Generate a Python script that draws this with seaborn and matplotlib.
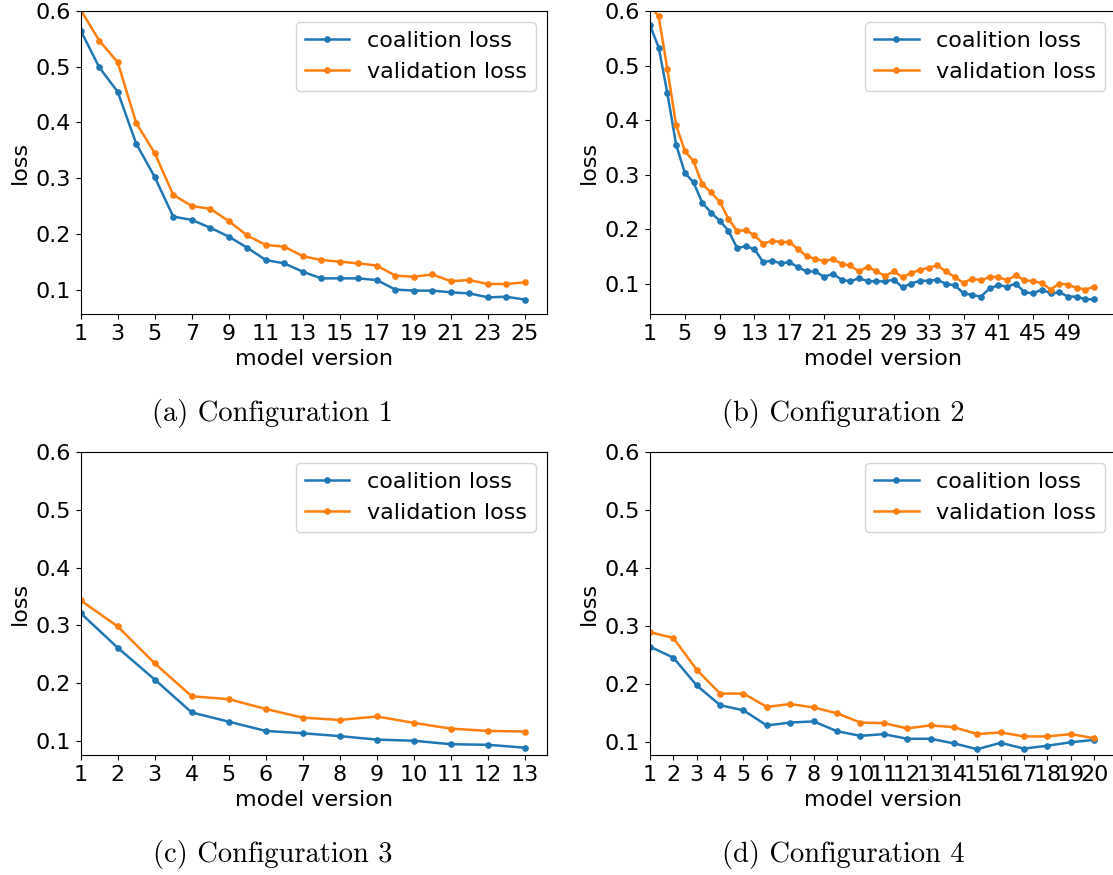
import matplotlib
matplotlib.use("Agg")
import matplotlib.pyplot as plt
import seaborn as sns

# values
versions_1 = list(range(1, 26))
coalition_1 = [0.565, 0.499, 0.455, 0.362, 0.302, 0.231, 0.225, 0.211, 0.195, 0.175,
               0.153, 0.147, 0.132, 0.120, 0.120, 0.120, 0.117, 0.100, 0.098, 0.098,
               0.095, 0.093, 0.086, 0.087, 0.082]
validation_1 = [0.602, 0.547, 0.508, 0.399, 0.345, 0.270, 0.250, 0.245, 0.223, 0.197,
                0.180, 0.177, 0.160, 0.153, 0.150, 0.147, 0.143, 0.125, 0.123, 0.127,
                0.115, 0.117, 0.110, 0.110, 0.113]

versions_2 = list(range(1, 53))
coalition_2 = [0.574, 0.533, 0.449, 0.355, 0.304, 0.286, 0.249, 0.231, 0.216, 0.198,
               0.166, 0.169, 0.164, 0.140, 0.143, 0.138, 0.140, 0.131, 0.123, 0.123,
               0.113, 0.119, 0.108, 0.105, 0.111, 0.105, 0.105, 0.105, 0.108, 0.094,
               0.101, 0.106, 0.106, 0.108, 0.100, 0.098, 0.083, 0.080, 0.077, 0.092,
               0.098, 0.095, 0.101, 0.085, 0.083, 0.090, 0.083, 0.085, 0.077, 0.077,
               0.072, 0.072]
validation_2 = [0.61, 0.590, 0.493, 0.391, 0.344, 0.325, 0.283, 0.268, 0.251, 0.220,
                0.197, 0.199, 0.189, 0.174, 0.179, 0.177, 0.177, 0.164, 0.151, 0.146,
                0.142, 0.146, 0.137, 0.134, 0.123, 0.132, 0.123, 0.115, 0.123, 0.113,
                0.120, 0.126, 0.130, 0.134, 0.123, 0.113, 0.102, 0.110, 0.107, 0.113,
                0.113, 0.107, 0.116, 0.107, 0.105, 0.102, 0.090, 0.101, 0.099, 0.093,
                0.090, 0.095]

versions_3 = list(range(1, 14))
coalition_3 = [0.321, 0.261, 0.206, 0.149, 0.133, 0.117, 0.113, 0.108, 0.102, 0.100,
               0.094, 0.093, 0.088]
validation_3 = [0.343, 0.298, 0.234, 0.177, 0.172, 0.155, 0.140, 0.136, 0.142, 0.131,
                0.121, 0.117, 0.116]

versions_4 = list(range(1, 21))
coalition_4 = [0.264, 0.245, 0.197, 0.163, 0.154, 0.128, 0.133, 0.135, 0.118, 0.110,
               0.113, 0.105, 0.105, 0.097, 0.087, 0.098, 0.088, 0.093, 0.099, 0.103]
validation_4 = [0.289, 0.279, 0.224, 0.183, 0.183, 0.160, 0.165, 0.159, 0.149, 0.133,
                0.132, 0.123, 0.128, 0.125, 0.113, 0.116, 0.109, 0.109, 0.113, 0.106]

captions = ["(a) Configuration 1", "(b) Configuration 2",
            "(c) Configuration 3", "(d) Configuration 4"]
xtick_steps = [2, 4, 1, 1]

plt.rcParams["font.size"] = 16

fig = plt.figure(figsize=(11.13, 8.75), dpi=100)

panels = [
    (versions_1, coalition_1, validation_1),
    (versions_2, coalition_2, validation_2),
    (versions_3, coalition_3, validation_3),
    (versions_4, coalition_4, validation_4),
]
axes_pos = [
    [0.0725, 0.6411, 0.419, 0.3463],
    [0.584, 0.6411, 0.419, 0.3463],
    [0.0725, 0.1371, 0.419, 0.3463],
    [0.584, 0.1371, 0.419, 0.3463],
]
caption_pos = [(0.245, 0.528), (0.758, 0.528), (0.245, 0.023), (0.758, 0.023)]

for i, (versions, coalition, validation) in enumerate(panels):
    ax = fig.add_axes(axes_pos[i])
    sns.lineplot(x=versions, y=coalition, ax=ax, color="#1f77b4", marker=".",
                 markersize=8, markeredgecolor="#1f77b4", linewidth=1.8,
                 label="coalition loss")
    sns.lineplot(x=versions, y=validation, ax=ax, color="#ff7f0e", marker=".",
                 markersize=8, markeredgecolor="#ff7f0e", linewidth=1.8,
                 label="validation loss")
    ax.set_xticks(list(range(1, versions[-1] + 1, xtick_steps[i])))
    ax.set_yticks([0.1, 0.2, 0.3, 0.4, 0.5, 0.6])
    ax.set_xlim(left=1)
    ax.set_ylim(top=0.6)
    ax.set_xlabel("model version")
    ax.set_ylabel("loss")
    ax.legend(loc="upper right", fontsize=16)
    fig.text(caption_pos[i][0], caption_pos[i][1], captions[i], ha="center",
             va="center", fontsize=20.5, family="cmr10")

fig.savefig("out.png", dpi=100)
